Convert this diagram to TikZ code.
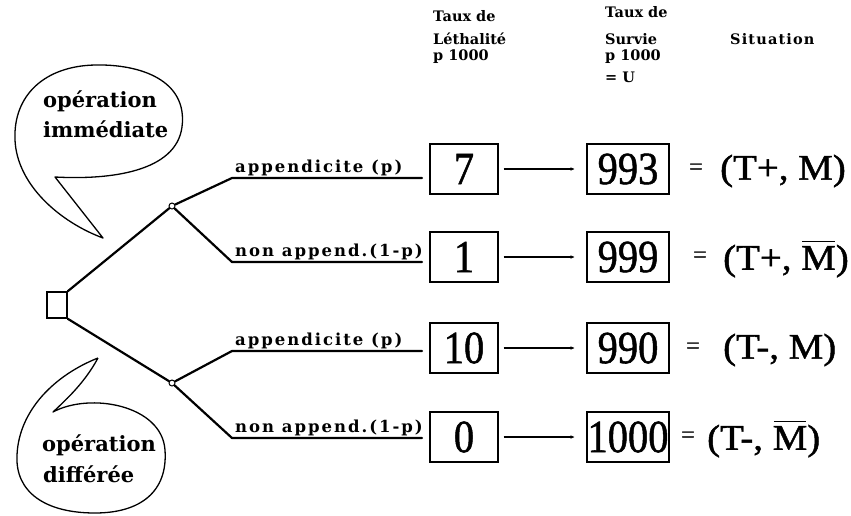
\documentclass[tikz,border=0pt]{standalone}
\usepackage{graphicx}
\usepackage{fontspec}
\setmainfont{Liberation Serif}
\newfontfamily\numfont{Liberation Serif}[FakeBold=1.2]
\newfontfamily\hdfont{DejaVu Serif}
\newfontfamily\lblfont{DejaVu Serif}[LetterSpace=12]
\newfontfamily\bubfont{DejaVu Serif}
\usetikzlibrary{arrows.meta}

% narrow digits and an M with a bar over it
\newcommand\narrow[1]{\scalebox{0.88}[1]{#1}}
\newcommand\wider[1]{\scalebox{1.08}[1]{#1}}
\newcommand\Mbar{\leavevmode\makebox[0pt][l]{\hspace{0.03em}\raisebox{0.76em}{\rule{0.83em}{0.05em}}}M}

\tikzset{
  branch/.style={line width=2.2pt, line cap=round, line join=round},
  bubble/.style={line width=1.3pt, line join=round},
  lbl/.style={anchor=base west, inner sep=0pt, font=\lblfont\bfseries\fontsize{16.5}{18}\selectfont},
  hdr/.style={anchor=base west, inner sep=0pt, font=\hdfont\bfseries\fontsize{14.5}{16}\selectfont},
  bub/.style={anchor=base west, inner sep=0pt, font=\bubfont\bfseries\fontsize{21}{23}\selectfont},
  numbox/.style={draw, line width=1.2pt, minimum height=50pt, inner sep=0pt, font=\numfont\fontsize{46}{46}\selectfont},
  leth/.style={numbox, minimum width=68pt},
  surv/.style={numbox, minimum width=82pt},
  link/.style={line width=1.3pt, -{Stealth[length=4pt,width=3.5pt]}, shorten <=5pt, shorten >=12pt},
  eqs/.style={inner sep=0pt, font=\numfont\fontsize{24}{24}\selectfont},
  sit/.style={anchor=west, inner sep=0pt, font=\numfont\fontsize{36}{36}\selectfont},
  chance/.style={circle, draw, line width=1pt, fill=white, inner sep=0pt, minimum size=6pt},
  decision/.style={draw, line width=1.6pt, minimum width=20pt, minimum height=26pt, inner sep=0pt},
}

\begin{document}
\begin{tikzpicture}[x=1pt, y=-1pt]
\useasboundingbox (0,0) rectangle (851,515);

% column headers
\node[hdr] (hLa) at (433,21) {Taux de};
\node[hdr] (hLb) at (433,44) {Léthalité};
\node[hdr] (hLc) at (433,60) {p 1000};
\node[hdr] (hSa) at (605,17) {Taux de};
\node[hdr] (hSb) at (605,44) {Survie};
\node[hdr] (hSc) at (605,60) {p 1000};
\node[hdr] (hSd) at (605,82) {= U};
\node[hdr, font=\hdfont\bfseries\fontsize{14.5}{16}\selectfont\addfontfeature{LetterSpace=8}] (hSit) at (730,44) {Situation};

% decision and chance nodes
\node[decision] (dec) at (57,305) {};
\node[chance] (c1) at (172,206) {};
\node[chance] (c2) at (172,383) {};
\draw[branch] (dec.north east) -- (c1);
\draw[branch] (dec.south east) -- (c2);

% branch ends (underlines)
\coordinate (u1a) at (232,178); \coordinate (u1b) at (422,178);
\coordinate (u2a) at (232,262); \coordinate (u2b) at (422,262);
\coordinate (u3a) at (232,351); \coordinate (u3b) at (422,351);
\coordinate (u4a) at (232,438); \coordinate (u4b) at (422,438);
\draw[branch] (c1) -- (u1a) -- (u1b);
\draw[branch] (c1) -- (u2a) -- (u2b);
\draw[branch] (c2) -- (u3a) -- (u3b);
\draw[branch] (c2) -- (u4a) -- (u4b);

% branch labels
\node[lbl] (t1) at (235,172) {appendicite (p)};
\node[lbl] (t2) at (235,256) {non append.(1-p)};
\node[lbl] (t3) at (235,345) {appendicite (p)};
\node[lbl] (t4) at (235,432) {non append.(1-p)};

% lethality and survival boxes
\node[leth] (l1) at (464,169) {\narrow{7}};
\node[leth] (l2) at (464,257) {\narrow{1}};
\node[leth] (l3) at (464,348) {\narrow{10}};
\node[leth] (l4) at (464,437) {\narrow{0}};
\node[surv] (s1) at (628,169) {\narrow{993}};
\node[surv] (s2) at (628,257) {\narrow{999}};
\node[surv] (s3) at (628,348) {\narrow{990}};
\node[surv] (s4) at (628,437) {\narrow{1000}};
\draw[link] (l1) -- (s1);
\draw[link] (l2) -- (s2);
\draw[link] (l3) -- (s3);
\draw[link] (l4) -- (s4);

% situations
\node[eqs] (e1) at (696,169) {=};
\node[eqs] (e2) at (700,257) {=};
\node[eqs] (e3) at (693,348) {=};
\node[eqs] (e4) at (688,437) {=};
\node[sit] (p1) at (720,171) {\wider{(T+, M)}};
\node[sit] (p2) at (723,259) {\wider{(T+, \Mbar)}};
\node[sit] (p3) at (723,350) {\wider{(T-, M)}};
\node[sit] (p4) at (707,439) {\wider{(T-, \Mbar)}};

% speech bubbles
\draw[bubble] (55,177)
  .. controls (110,180) and (176,172) .. (182,127)
  .. controls (188,80) and (140,64) .. (95,65)
  .. controls (45,66) and (13,95) .. (15,140)
  .. controls (17,185) and (60,222) .. (103,238)
  -- cycle;
\node[bub] (b1a) at (43,107) {opération};
\node[bub] (b1b) at (43,137) {immédiate};

\draw[bubble] (98,358)
  .. controls (85,382) and (68,398) .. (53,412)
  .. controls (90,392) and (162,405) .. (165,450)
  .. controls (168,492) and (140,513) .. (95,513)
  .. controls (45,513) and (15,492) .. (17,455)
  .. controls (19,410) and (55,375) .. (98,358);
\node[bub] (b2a) at (42,451) {opération};
\node[bub] (b2b) at (43,482) {différée};
\end{tikzpicture}
\end{document}
